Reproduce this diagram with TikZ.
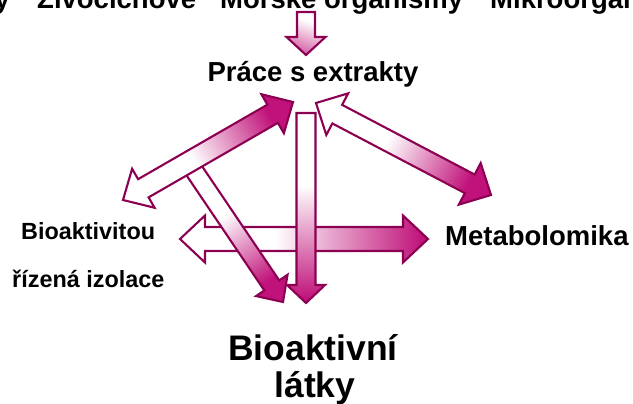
\documentclass[tikz,border=0pt]{standalone}
\usepackage{fontspec}
\setmainfont{Liberation Sans}
\usetikzlibrary{calc}

\definecolor{mag}{RGB}{192,18,122}
\definecolor{edge}{RGB}{140,0,82}
\colorlet{pinkmid}{mag!70}

% white for the first part of the arrow, then blending into magenta
\pgfdeclarehorizontalshading{arrowshade}{100bp}{color(0bp)=(white); color(44bp)=(white); color(74bp)=(mag); color(100bp)=(mag)}
\pgfdeclarehorizontalshading{lightshade}{100bp}{color(0bp)=(white); color(35bp)=(white); color(75bp)=(pinkmid); color(100bp)=(pinkmid)}

\tikzset{
  blockarrow/.style={draw=edge, line width=2.1pt, line join=miter, shading=arrowshade, shading angle=#1},
  lightarrow/.style={draw=edge, line width=2.1pt, line join=miter, shading=lightshade, shading angle=#1},
  lbl/.style={inner sep=0pt, text=black},
  bigfont/.style={font=\bfseries\fontsize{27.5}{30}\selectfont},
  midfont/.style={font=\bfseries\fontsize{23.4}{26}\selectfont},
  hugefont/.style={font=\bfseries\fontsize{35.5}{37}\selectfont},
}

% block arrow: #1 style, #2 tail, #3 tip, #4 shaft half width, #5 head half width, #6 head length
\newcommand\singlearrow[6]{%
  \coordinate (hbase) at ($(#3)!#6!(#2)$);
  \shadedraw[#1] ($(#2)!#4!90:(#3)$) -- ($(hbase)!#4!90:(#3)$) -- ($(hbase)!#5!90:(#3)$)
    -- (#3) -- ($(hbase)!#5!-90:(#3)$) -- ($(hbase)!#4!-90:(#3)$) -- ($(#2)!#4!-90:(#3)$) -- cycle;
}
% double-headed block arrow: #1 style, #2 and #3 tips, #4 shaft half width, #5 head half width, #6 head length
\newcommand\doublearrow[6]{%
  \coordinate (hbaseA) at ($(#2)!#6!(#3)$);
  \coordinate (hbaseB) at ($(#3)!#6!(#2)$);
  \shadedraw[#1] (#2) -- ($(hbaseA)!#5!90:(#3)$) -- ($(hbaseA)!#4!90:(#3)$)
    -- ($(hbaseB)!#4!-90:(#2)$) -- ($(hbaseB)!#5!-90:(#2)$) -- (#3)
    -- ($(hbaseB)!#5!90:(#2)$) -- ($(hbaseB)!#4!90:(#2)$)
    -- ($(hbaseA)!#4!-90:(#3)$) -- ($(hbaseA)!#5!-90:(#3)$) -- cycle;
}

\begin{document}
\begin{tikzpicture}[x=1pt,y=-1pt]
\useasboundingbox (0,0) rectangle (633,404);
\clip (0,0) rectangle (633,404);

% arrow end points
\coordinate (srcTop)   at (306,12);
\coordinate (srcTip)   at (306,55);
\coordinate (hLeft)    at (180,239);
\coordinate (hRight)   at (428,239);
\coordinate (dTail)    at (187,160);
\coordinate (dTip)     at (283,302);
\coordinate (luLow)    at (123,200);
\coordinate (luHigh)   at (293,102);
\coordinate (vTop)     at (306,113);
\coordinate (vTip)     at (306,303);
\coordinate (rdHigh)   at (316,103);
\coordinate (rdLow)    at (491,195);

% arrows, back to front
\doublearrow{blockarrow=0}{hLeft}{hRight}{12pt}{23.5pt}{25pt}
\singlearrow{blockarrow=-56}{dTail}{dTip}{9pt}{19pt}{20pt}
\doublearrow{blockarrow=30}{luLow}{luHigh}{10.5pt}{22.5pt}{23.5pt}
\singlearrow{blockarrow=-90}{vTop}{vTip}{9.5pt}{19pt}{18pt}
\doublearrow{blockarrow=-27.7}{rdHigh}{rdLow}{10.5pt}{23.5pt}{24pt}
\singlearrow{lightarrow=-110}{srcTop}{srcTip}{9pt}{19.5pt}{18pt}

% sources along the top edge
\node[lbl, bigfont, anchor=base east] (rost) at (10,9) {Rostliny};
\node[lbl, bigfont, anchor=base west] (ziv)  at (37,9) {Živočichové};
\node[lbl, bigfont, anchor=base west] (mor)  at (220,9) {Mořské organismy};
\node[lbl, bigfont, anchor=base west] (mikro) at (490,9) {Mikroorganismy};

% labels
\node[lbl, bigfont, anchor=base] (prace) at (313,82) {Práce s extrakty};
\node[lbl, bigfont, anchor=base west] (meta) at (445,245) {Metabolomika};
\node[lbl, midfont, anchor=base west] (bio1) at (21,239) {Bioaktivitou};
\node[lbl, midfont, anchor=base west] (bio2) at (12,287) {řízená izolace};
\node[lbl, hugefont, anchor=base] (latky1) at (313,360) {Bioaktivní};
\node[lbl, hugefont, anchor=base] (latky2) at (315,397) {látky};
\end{tikzpicture}
\end{document}
